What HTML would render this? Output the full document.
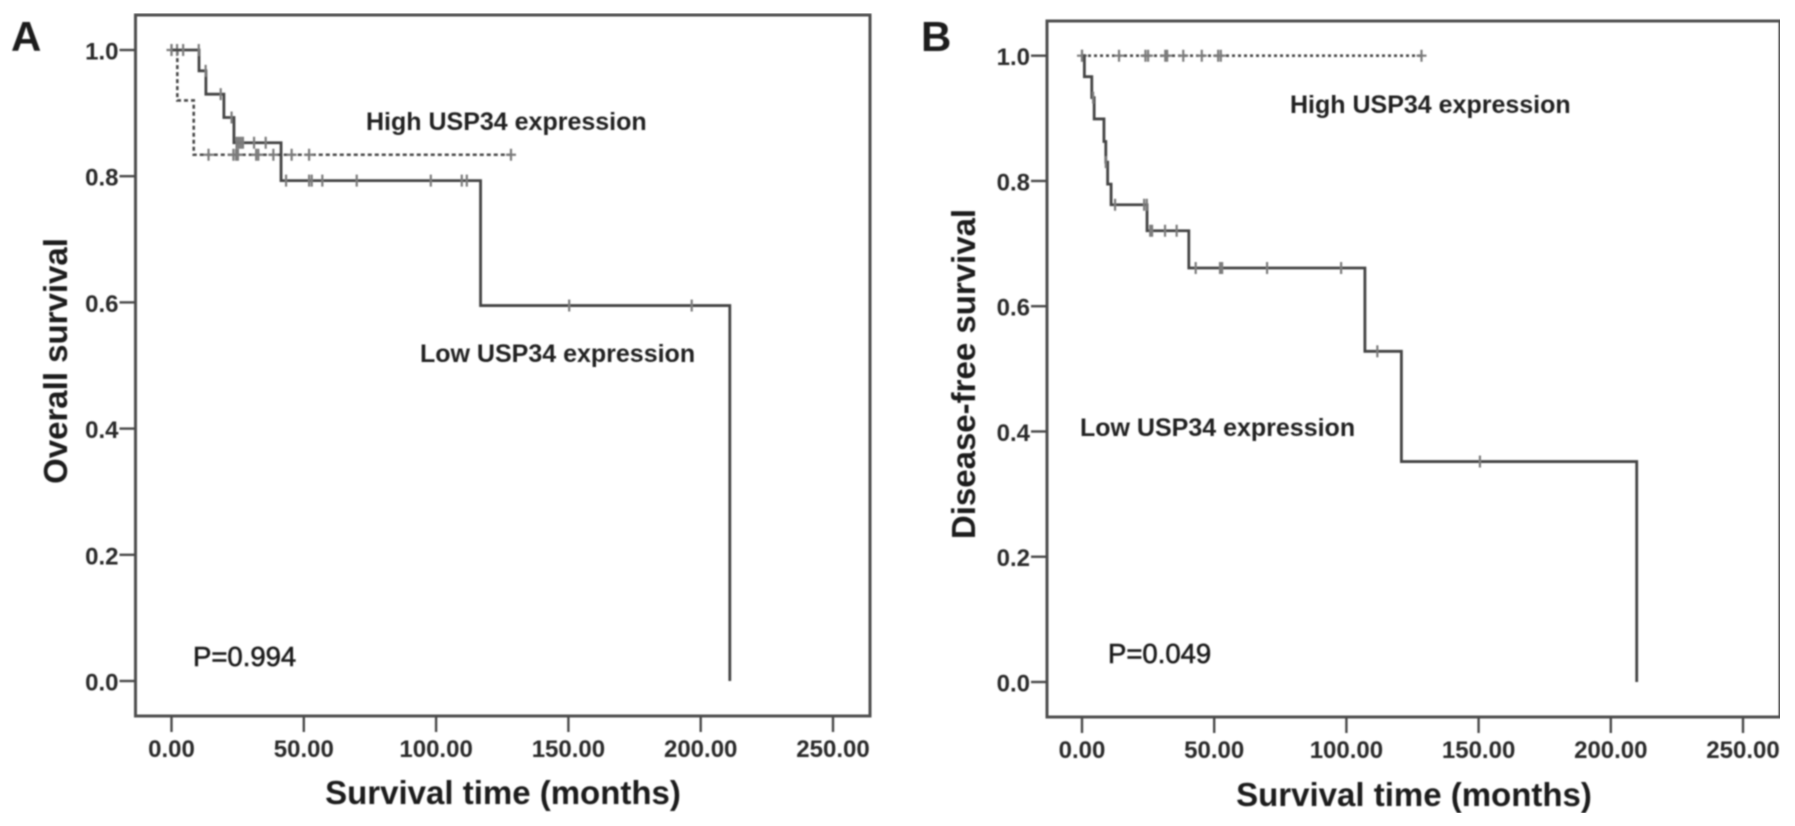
<!DOCTYPE html>
<html lang="en">
<head>
<meta charset="utf-8">
<title>USP34 expression survival curves</title>
<style>
html,body{margin:0;padding:0;background:#fff;width:1795px;height:826px;overflow:hidden}
svg{display:block;font-family:"Liberation Sans",Arial,sans-serif}
#art{filter:url(#soft)}
text{fill:#222}
.tick-label{font-size:24px;font-weight:700;fill:#2a2a2a}
.axis-title{font-size:33px;font-weight:700;fill:#1c1c1c}
.note{font-size:25px;font-weight:700;fill:#222}
.pval{font-size:27.5px;font-weight:400;fill:#1c1c1c;stroke:#1c1c1c;stroke-width:.6px}
.panel{font-size:42px;font-weight:700;fill:#1c1c1c}
</style>
</head>
<body>
<svg id="chart" xmlns="http://www.w3.org/2000/svg" width="1795" height="826" viewBox="0 0 1795 826">
<defs><filter id="soft" x="0" y="0" width="100%" height="100%"><feGaussianBlur stdDeviation="0.8"/></filter></defs>
<rect width="1795" height="826" fill="#fff"/>
<g id="art">
  <text class="panel" x="11" y="51">A</text>
  <text class="panel" x="921" y="51">B</text>

  <g id="panelA"></g>
  <g id="panelB"></g>

  <text class="axis-title" x="503" y="804" text-anchor="middle">Survival time (months)</text>
  <text class="axis-title" x="1414" y="806" text-anchor="middle">Survival time (months)</text>
  <text class="axis-title" transform="translate(67,361) rotate(-90)" text-anchor="middle">Overall survival</text>
  <text class="axis-title" transform="translate(975,374) rotate(-90)" text-anchor="middle">Disease-free survival</text>

  <text class="note" x="366" y="130">High USP34 expression</text>
  <text class="note" x="420" y="362">Low USP34 expression</text>
  <text class="note" x="1290" y="113">High USP34 expression</text>
  <text class="note" x="1080" y="436">Low USP34 expression</text>

  <text class="pval" x="193" y="666">P=0.994</text>
  <text class="pval" x="1108" y="663">P=0.049</text>
</g>
</svg>
<script>
// Shared axis tick values
const xTicks = [0, 50, 100, 150, 200, 250];
const xTickLabels = ['0.00', '50.00', '100.00', '150.00', '200.00', '250.00'];
const yTicks = [0, 0.2, 0.4, 0.6, 0.8, 1.0];
const yTickLabels = ['0.0', '0.2', '0.4', '0.6', '0.8', '1.0'];

// Panel A: overall survival
const aLowTimes = [0, 10.4, 13, 19.8, 23.6, 41.4, 116.8, 211];
const aLowSurvival = [1, 0.967, 0.93, 0.893, 0.853, 0.793, 0.595, 0];
const aLowCensorTimes = [0, 4.4, 10.3, 12.9, 18.6, 22.7, 24.6, 25.4, 26.2, 27, 31.2, 35.6, 43.3, 52, 53, 57, 70, 98, 109.7, 111.6, 150.3, 196.6];
const aHighTimes = [0, 2.2, 8.4, 128.3];
const aHighSurvival = [1, 0.92, 0.834, 0.834];
const aHighCensorTimes = [0, 2.1, 14, 23.4, 24.4, 25.1, 32, 32.8, 38.5, 45.4, 52, 128.3];

// Panel B: disease-free survival
const bLowTimes = [0, 0.9, 3.7, 4.6, 8.3, 9, 9.7, 11, 24.6, 40.4, 107, 120.8, 209.8];
const bLowSurvival = [1, 0.9665, 0.933, 0.899, 0.863, 0.83, 0.795, 0.762, 0.7205, 0.661, 0.528, 0.352, 0];
const bLowCensorTimes = [0, 4.2, 9, 12.5, 23.5, 24.5, 25.8, 26.5, 31.4, 35.8, 43, 52.2, 53, 70, 98, 111.7, 150.5];
const bHighTimes = [0, 128.4];
const bHighSurvival = [1, 1];
const bHighCensorTimes = [0, 14, 24, 25, 31.5, 32.2, 38.3, 45.3, 51.5, 52.5, 128.4];

const SVGNS = 'http://www.w3.org/2000/svg';
function make(tag, parent, attrs) {
  const el = document.createElementNS(SVGNS, tag);
  for (const k in attrs) el.setAttribute(k, attrs[k]);
  parent.appendChild(el);
  return el;
}
function survivalAt(times, surv, t) {
  let s = surv[0];
  for (let i = 0; i < times.length; i++) { if (times[i] <= t) s = surv[i]; }
  return s;
}
function stepPath(times, surv, x, y) {
  let d = 'M' + x(times[0]) + ' ' + y(surv[0]);
  for (let i = 1; i < times.length; i++) {
    d += 'L' + x(times[i]) + ' ' + y(surv[i - 1]) + 'L' + x(times[i]) + ' ' + y(surv[i]);
  }
  return d;
}
function drawPanel(cfg) {
  const root = document.getElementById(cfg.id);
  const x = v => cfg.x0 + cfg.xk * v;
  const y = v => cfg.y0 - cfg.yk * v;

  const frame = make('rect', root, {x: cfg.left, y: cfg.top, width: cfg.right - cfg.left, height: cfg.bottom - cfg.top, fill: 'none', stroke: '#505050', 'stroke-width': 3});
  
  

  xTicks.forEach((t, i) => {
    const mark = make('line', root, {x1: x(t), x2: x(t), y1: cfg.bottom, y2: cfg.bottom + 16, stroke: '#4a4a4a', 'stroke-width': 2.4});
    
    
    const lab = make('text', root, {x: x(t), y: cfg.bottom + 41, 'text-anchor': 'middle', class: 'tick-label'});
    lab.textContent = xTickLabels[i];
    
    
  });
  yTicks.forEach((t, i) => {
    const mark = make('line', root, {x1: cfg.left - 16, x2: cfg.left, y1: y(t), y2: y(t), stroke: '#4a4a4a', 'stroke-width': 2.4});
    
    
    const lab = make('text', root, {x: cfg.left - 17, y: y(t) + 9.5, 'text-anchor': 'end', class: 'tick-label'});
    lab.textContent = yTickLabels[i];
    
    
  });

  const high = make('path', root, {d: stepPath(cfg.highT, cfg.highS, x, y), fill: 'none', stroke: '#4a4a4a', 'stroke-width': 2.6, 'stroke-dasharray': cfg.dash});
  
  
  cfg.highC.forEach(t => {
    const sv = survivalAt(cfg.highT, cfg.highS, t);
    const c = make('path', root, {d: 'M' + x(t) + ' ' + (y(sv) - 6) + 'V' + (y(sv) + 6) + 'M' + (x(t) - 5) + ' ' + y(sv) + 'H' + (x(t) + 5), fill: 'none', stroke: '#7c7c7c', 'stroke-width': 2.2});
    
    
  });

  const low = make('path', root, {d: stepPath(cfg.lowT, cfg.lowS, x, y), fill: 'none', stroke: '#444', 'stroke-width': 2.8});
  
  
  cfg.lowC.forEach(t => {
    const sv = survivalAt(cfg.lowT, cfg.lowS, t);
    const c = make('path', root, {d: 'M' + x(t) + ' ' + (y(sv) - 6) + 'V' + (y(sv) + 6), fill: 'none', stroke: '#7c7c7c', 'stroke-width': 2.2});
    
    
  });
}
drawPanel({id: 'panelA', left: 135.5, right: 870, top: 15, bottom: 716, x0: 171.5, xk: 2.646, y0: 681, yk: 631, dash: '4 3',
  lowT: aLowTimes, lowS: aLowSurvival, lowC: aLowCensorTimes, highT: aHighTimes, highS: aHighSurvival, highC: aHighCensorTimes});
drawPanel({id: 'panelB', left: 1047, right: 1780, top: 21, bottom: 717, x0: 1082, xk: 2.644, y0: 682, yk: 626.3, dash: '3 3',
  lowT: bLowTimes, lowS: bLowSurvival, lowC: bLowCensorTimes, highT: bHighTimes, highS: bHighSurvival, highC: bHighCensorTimes});
</script>
</body>
</html>
